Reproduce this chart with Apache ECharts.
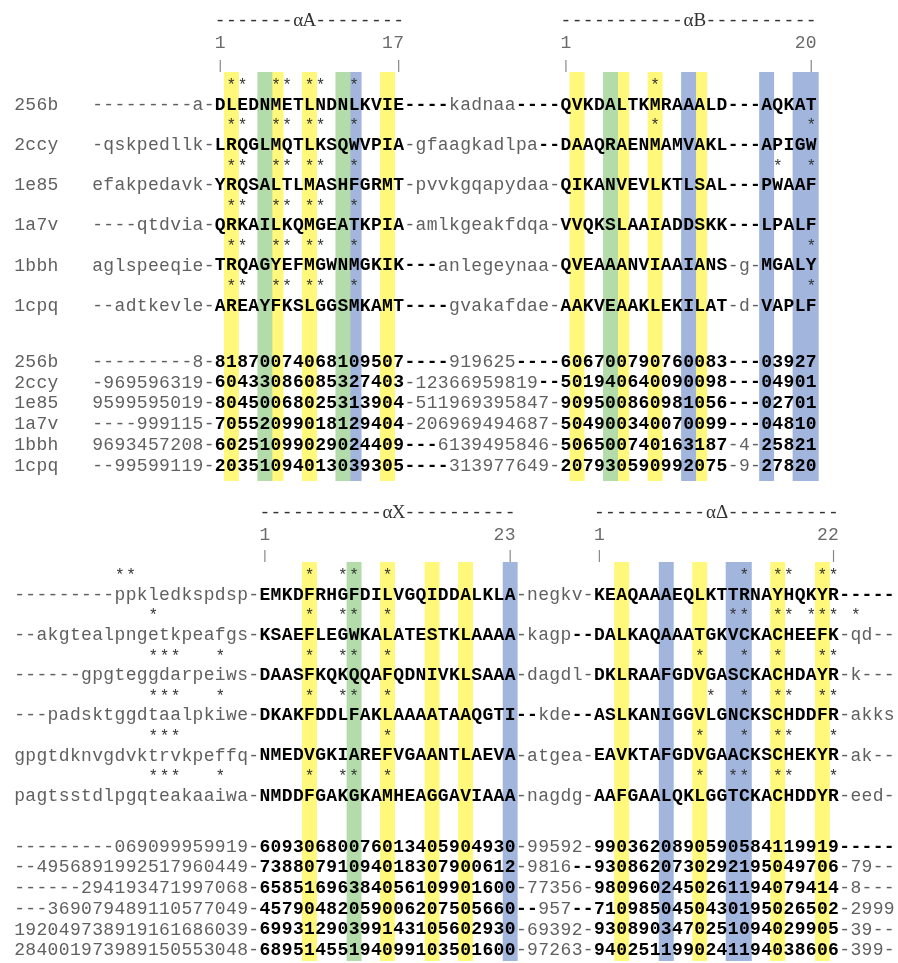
<!DOCTYPE html>
<html><head><meta charset="utf-8">
<script src="https://cdn.jsdelivr.net/npm/echarts@6/dist/echarts.min.js"></script>
<style>html,body{margin:0;padding:0;background:#fff}#c{width:898px;height:963px}</style>
</head><body><div id="c"></div>
<script>
// ================= DATA =================
const topLabels = ['256b','2ccy','1e85','1a7v','1bbh','1cpq'];
const topSeqs = [
 '---------a-DLEDNMETLNDNLKVIE----kadnaa----QVKDALTKMRAAALD---AQKAT',
 '-qskpedllk-LRQGLMQTLKSQWVPIA-gfaagkadlpa--DAAQRAENMAMVAKL---APIGW',
 'efakpedavk-YRQSALTLMASHFGRMT-pvvkgqapydaa-QIKANVEVLKTLSAL---PWAAF',
 '----qtdvia-QRKAILKQMGEATKPIA-amlkgeakfdqa-VVQKSLAAIADDSKK---LPALF',
 'aglspeeqie-TRQAGYEFMGWNMGKIK---anlegeynaa-QVEAAANVIAAIANS-g-MGALY',
 '--adtkevle-AREAYFKSLGGSMKAMT----gvakafdae-AAKVEAAKLEKILAT-d-VAPLF'
];
const topNums = [
 '---------8-81870074068109507----919625----606700790760083---03927',
 '-969596319-60433086085327403-12366959819--501940640090098---04901',
 '9599595019-80450068025313904-511969395847-909500860981056---02701',
 '----999115-70552099018129404-206969494687-504900340070099---04810',
 '9693457208-60251099029024409---6139495846-506500740163187-4-25821',
 '--99599119-20351094013039305----313977649-207930590992075-9-27820'
];
const topStars = [
 [12,13,16,17,19,20,23,50],
 [12,13,16,17,19,20,23,50,64],
 [12,13,16,17,19,20,23,61,64],
 [12,13,16,17,19,20,23],
 [12,13,16,17,19,20,23,64],
 [12,13,16,17,19,20,23,64]
];
const topYellow = [12,16,19,26,43,47,50,54];
const topGreen  = [15,22,46];
const topBlue   = [23,53,60,63,64];
const topHelices = [
 {header:'-------αA--------',       from:11, to:27, first:'1', last:'17'},
 {header:'-----------αB----------', from:42, to:64, first:'1', last:'20'}
];

const botSeqs = [
 '---------ppkledkspdsp-EMKDFRHGFDILVGQIDDALKLA-negkv-KEAQAAAEQLKTTRNAYHQKYR-----',
 '--akgtealpngetkpeafgs-KSAEFLEGWKALATESTKLAAAA-kagp--DALKAQAAATGKVCKACHEEFK-qd--',
 '------gpgteggdarpeiws-DAASFKQKQQAFQDNIVKLSAAA-dagdl-DKLRAAFGDVGASCKACHDAYR-k---',
 '---padsktggdtaalpkiwe-DKAKFDDLFAKLAAAATAAQGTI--kde--ASLKANIGGVLGNCKSCHDDFR-akks',
 'gpgtdknvgdvktrvkpeffq-NMEDVGKIAREFVGAANTLAEVA-atgea-EAVKTAFGDVGAACKSCHEKYR-ak--',
 'pagtsstdlpgqteakaaiwa-NMDDFGAKGKAMHEAGGAVIAAA-nagdg-AAFGAALQKLGGTCKACHDDYR-eed-'
];
const botNums = [
 '---------069099959919-60930680076013405904930-99592-9903620890590584119919-----',
 '--4956891992517960449-73880791094018307900612-9816--9308620730292195049706-79--',
 '------294193471997068-65851696384056109901600-77356-9809602450261194079414-8---',
 '---369079489110577049-45790482059006207505660--957--7109850450430195026502-2999',
 '192049738919161686039-69931290399143105602930-69392-9308903470251094029905-39--',
 '284001973989150553048-68951455194099103501600-97263-9402511990241194038606-399-'
];
const botStars = [
 [9,10,26,29,30,33,65,68,69,72,73],
 [12,26,29,30,33,64,65,68,69,71,72,73,75],
 [12,13,14,18,26,29,30,33,61,65,68,72,73],
 [12,13,14,18,26,29,30,33,62,65,68,69,72,73],
 [12,13,14,33,61,65,68,69,73],
 [12,13,14,18,26,29,30,33,61,64,65,68,69,73]
];
const botYellow = [26,33,37,40,54,61,68,72];
const botGreen  = [30];
const botBlue   = [44,58,64,65];
const botHelices = [
 {header:'-----------αX----------', from:22, to:44, first:'1', last:'23'},
 {header:'----------αΔ----------',  from:52, to:73, first:'1', last:'22'}
];

// ================= LAYOUT / STYLE =================
const CW = 11.15, LEFT = 14, NCOL = 79, H = 963;
const MONO = "'Liberation Mono','Courier New','DejaVu Sans Mono',monospace";
const SERIF = "'Liberation Serif','Times New Roman',serif";
const COL = {normal:'#606060', bold:'#000', head:'#333', num:'#6a6a6a', tick:'#888',
             yellow:'#fff87a', green:'#b4dcaa', blue:'#a2b6dd'};
const FS = 18, STAR_FS = 16, HEAD_FS = 19;
const BLOCKS = {
 top: {offset:7, header:21, label:43, tickTop:60, tickBot:72, bandTop:72, bandBot:481,
       seq0:105, seqStep:40.2, starDy:-19, num0:362, numStep:20.8},
 bot: {offset:0, header:513, label:535, tickTop:550, tickBot:562, bandTop:562, bandBot:961,
       seq0:595, seqStep:40.2, starDy:-19, num0:847, numStep:20.7}
};

// ================= BUILD =================
const texts = [];
const bands = [];
const ticks = [];
function isUp(ch){ return /[A-Z]/.test(ch); }
function boldMask(s){
  const m = [];
  for (let i=0;i<s.length;i++) m.push(isUp(s[i]));
  let i=0;
  while (i<s.length){
    if (s[i]==='-'){
      let j=i; while (j<s.length && s[j]==='-') j++;
      const touch = (i>0 && isUp(s[i-1])) || (j<s.length && isUp(s[j]));
      if (j-i>=2 && touch) for (let k=i;k<j;k++) m[k]=true;
      i=j;
    } else i++;
  }
  return m;
}
function addStr(str, c0, y, opts){
  for (let k=0;k<str.length;k++){
    const ch = str[k];
    if (ch===' ') continue;
    const bold = opts.mask ? opts.mask[k] : !!opts.bold;
    const serif = opts.serifFn && opts.serifFn(ch);
    texts.push({c:c0+k, y:y, ch:ch, bold:bold,
      color: opts.color || (bold?COL.bold:COL.normal),
      family: serif ? SERIF : MONO,
      size: serif ? HEAD_FS : (opts.size||FS)});
  }
}
function buildBlock(L, seqs, nums, stars, labels, helices, yellow, green, blue){
  seqs.forEach((s, r) => {
    const y = L.seq0 + r*L.seqStep;
    const m = boldMask(s);
    if (labels) addStr(labels[r], 0, y, {color:COL.normal});
    addStr(s, L.offset, y, {mask:m});
    stars[r].forEach(k => addStr('*', L.offset+k, y+L.starDy, {color:'#333', size:STAR_FS}));
    const yn = L.num0 + r*L.numStep;
    if (labels) addStr(labels[r], 0, yn, {color:COL.normal});
    addStr(nums[r], L.offset, yn, {mask:m});
  });
  helices.forEach(h => {
    addStr(h.header, L.offset+h.from, L.header, {color:COL.head, serifFn: ch => ch!=='-'});
    addStr(h.first, L.offset+h.from, L.label, {color:COL.num});
    addStr(h.last, L.offset+h.to-h.last.length+1, L.label, {color:COL.num});
    ticks.push([L.offset+h.from, L.tickTop, L.tickBot]);
    ticks.push([L.offset+h.to, L.tickTop, L.tickBot]);
  });
  const all = [];
  yellow.forEach(c => all.push([L.offset+c, L.bandTop, L.bandBot, 0]));
  green.forEach(c => all.push([L.offset+c, L.bandTop, L.bandBot, 1]));
  blue.forEach(c => all.push([L.offset+c, L.bandTop, L.bandBot, 2]));
  all.sort((a,b)=>b[0]-a[0]);
  all.forEach(b => bands.push(b));
}
buildBlock(BLOCKS.top, topSeqs, topNums, topStars, topLabels, topHelices, topYellow, topGreen, topBlue);
buildBlock(BLOCKS.bot, botSeqs, botNums, botStars, null, botHelices, botYellow, botGreen, botBlue);

const bandColors = [COL.yellow, COL.green, COL.blue];
const PAD = 0.17;

const chart = echarts.init(document.getElementById('c'), null, {renderer:'canvas'});
chart.setOption({
  animation:false,
  backgroundColor:'#fff',
  grid:{left:LEFT, top:0, width:NCOL*CW, height:H},
  xAxis:{type:'value', min:0, max:NCOL, show:false},
  yAxis:{type:'value', min:0, max:H, inverse:true, show:false},
  series:[
    {type:'custom', coordinateSystem:'cartesian2d', silent:true, clip:false, z:1,
     progressive:0, data:bands, encode:{x:0, y:1},
     renderItem:(params, api) => {
       const c = api.value(0);
       const p0 = api.coord([c-PAD, api.value(1)]);
       const p1 = api.coord([c+1+PAD, api.value(2)]);
       return {type:'rect', shape:{x:p0[0], y:p0[1], width:p1[0]-p0[0], height:p1[1]-p0[1]},
               style:{fill:bandColors[api.value(3)]}};
     }},
    {type:'custom', coordinateSystem:'cartesian2d', silent:true, clip:false, z:2,
     progressive:0, data:ticks, encode:{x:0, y:1},
     renderItem:(params, api) => {
       const c = api.value(0);
       const p0 = api.coord([c+0.5, api.value(1)]);
       const p1 = api.coord([c+0.5, api.value(2)]);
       return {type:'line', shape:{x1:p0[0], y1:p0[1], x2:p1[0], y2:p1[1]},
               style:{stroke:COL.tick, lineWidth:1.2}};
     }},
    {type:'custom', coordinateSystem:'cartesian2d', silent:true, clip:false, z:3,
     progressive:0, data:texts.map(t => [t.c, t.y]), encode:{x:0, y:1},
     renderItem:(params, api) => {
       const t = texts[params.dataIndex];
       const p = api.coord([api.value(0)+0.5, api.value(1)]);
       return {type:'text', x:p[0], y:p[1],
               style:{text:t.ch, fill:t.color, fontSize:t.size, fontFamily:t.family,
                      fontWeight:t.bold?'bold':'normal',
                      align:'center', verticalAlign:'middle',
                      textAlign:'center', textVerticalAlign:'middle'}};
     }}
  ]
});
</script></body></html>
